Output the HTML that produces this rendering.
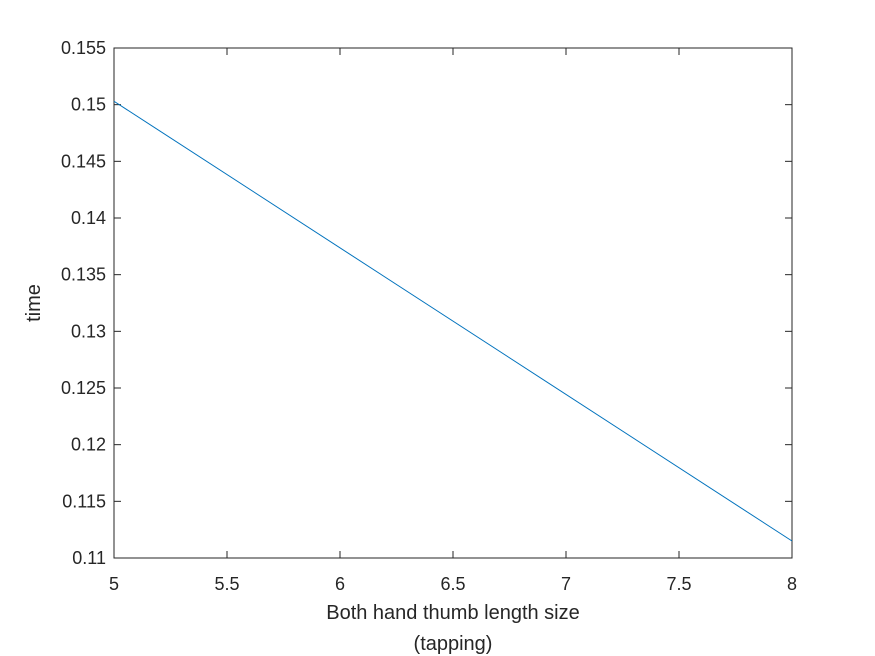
<!DOCTYPE html>
<html><head><meta charset="utf-8"><style>
body{margin:0;background:#fff;}
svg{display:block;font-family:"Liberation Sans",Arial,sans-serif;}
</style></head><body>
<svg id="chart" width="875" height="656" xmlns="http://www.w3.org/2000/svg">
<rect x="0" y="0" width="875" height="656" fill="#fff"/>
<g id="plot"></g>
</svg>
<script>
const xTicks=[5,5.5,6,6.5,7,7.5,8];
const xTickLabels=["5","5.5","6","6.5","7","7.5","8"];
const yTicks=[0.11,0.115,0.12,0.125,0.13,0.135,0.14,0.145,0.15,0.155];
const yTickLabels=["0.11","0.115","0.12","0.125","0.13","0.135","0.14","0.145","0.15","0.155"];
const seriesX=[5,8];
const seriesY=[0.1503,0.1115];
const L=114,R=792,T=48,B=558;
const xMin=5,xMax=8,yMin=0.11,yMax=0.155;
const sx=v=>L+(v-xMin)/(xMax-xMin)*(R-L);
const sy=v=>B-(v-yMin)/(yMax-yMin)*(B-T);
const NS="http://www.w3.org/2000/svg";
const g=document.getElementById('plot');
function mk(tag,attrs,text){const e=document.createElementNS(NS,tag);for(const k in attrs)e.setAttribute(k,attrs[k]);if(text!==undefined)e.textContent=text;g.appendChild(e);return e;}
const box=mk('rect',{x:L,y:T,width:R-L,height:B-T,fill:'#fff',stroke:'#262626','stroke-width':1});


xTicks.forEach((v,i)=>{
  const x=sx(v);
  const t1=mk('line',{x1:x,y1:B,x2:x,y2:B-7,stroke:'#262626'});
  
  
  const t2=mk('line',{x1:x,y1:T,x2:x,y2:T+7,stroke:'#262626'});
  
  
  const lb=mk('text',{x:x,y:B+32,'text-anchor':'middle','font-size':18,fill:'#262626'},xTickLabels[i]);
  
  
});
yTicks.forEach((v,i)=>{
  const y=sy(v);
  const t1=mk('line',{x1:L,y1:y,x2:L+7,y2:y,stroke:'#262626'});
  
  
  const t2=mk('line',{x1:R,y1:y,x2:R-7,y2:y,stroke:'#262626'});
  
  
  const lb=mk('text',{x:L-8,y:y+6,'text-anchor':'end','font-size':18,fill:'#262626'},yTickLabels[i]);
  
  
});
const pts=seriesX.map((v,i)=>sx(v)+','+sy(seriesY[i])).join(' ');
const line=mk('polyline',{points:pts,fill:'none',stroke:'#0072bd','stroke-width':1});


const xt1=mk('text',{x:(L+R)/2,y:619,'text-anchor':'middle','font-size':20,fill:'#262626'},'Both hand thumb length size');


const xt2=mk('text',{x:(L+R)/2,y:650,'text-anchor':'middle','font-size':20,fill:'#262626'},'(tapping)');


const yt=mk('text',{x:0,y:0,'text-anchor':'middle','font-size':20,fill:'#262626',transform:'translate(40,'+((T+B)/2)+') rotate(-90)'},'time');


</script>
</body></html>
